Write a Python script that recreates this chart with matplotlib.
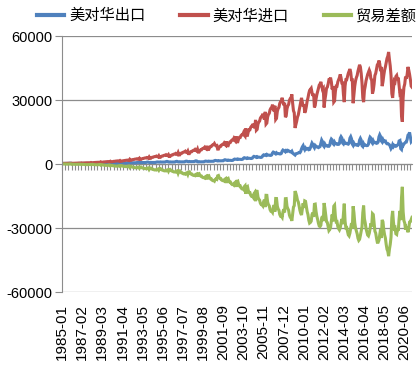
import matplotlib
matplotlib.use("Agg")
import matplotlib.pyplot as plt
import numpy as np
import pandas as pd

plt.rcParams["font.family"] = ["Liberation Sans", "Noto Sans CJK SC"]
plt.rcParams["axes.unicode_minus"] = False

# monthly values, one row per year (1985-01 .. 2021-03)
imports_cn = [
    [300, 260, 270, 290, 310, 320, 340, 350, 350, 370, 345, 335],
    [390, 320, 330, 365, 390, 390, 420, 430, 430, 460, 425, 410],
    [530, 430, 430, 480, 515, 515, 550, 570, 570, 605, 560, 540],
    [720, 580, 580, 650, 695, 695, 745, 765, 765, 815, 760, 730],
    [1020, 820, 820, 920, 980, 980, 1050, 1080, 1080, 1150, 1070, 1030],
    [1290, 1040, 1040, 1170, 1245, 1245, 1335, 1370, 1370, 1460, 1360, 1310],
    [1610, 1300, 1300, 1450, 1550, 1550, 1660, 1710, 1710, 1820, 1690, 1630],
    [2190, 1760, 1760, 1970, 2100, 2100, 2250, 2320, 2320, 2470, 2290, 2210],
    [2680, 2150, 2150, 2420, 2580, 2580, 2760, 2840, 2840, 3020, 2810, 2710],
    [3300, 2650, 2650, 2970, 3170, 3170, 3390, 3490, 3490, 3720, 3460, 3330],
    [3870, 3110, 3110, 3490, 3720, 3720, 3980, 4100, 4100, 4360, 4060, 3910],
    [4380, 3520, 3520, 3950, 4210, 4210, 4510, 4640, 4640, 4940, 4590, 4420],
    [5320, 4270, 4270, 4800, 5110, 5110, 5470, 5630, 5630, 6000, 5580, 5370],
    [6050, 4860, 4860, 5460, 5810, 5810, 6230, 6410, 6410, 6820, 6350, 6110],
    [6950, 5590, 5590, 6270, 6680, 6680, 7160, 7360, 7360, 7840, 7290, 7020],
    [8500, 6830, 6830, 7670, 8170, 8170, 8750, 9000, 9000, 9590, 8920, 8590],
    [8690, 6990, 6990, 7840, 8350, 8350, 8950, 9200, 9200, 9800, 9120, 8780],
    [10640, 8550, 8550, 9600, 10220, 10220, 10950, 11270, 11270, 12000, 11160, 10750],
    [12960, 10420, 10420, 11690, 12450, 12450, 13340, 13720, 13720, 14610, 13590, 13080],
    [16720, 13440, 13440, 15080, 16060, 16060, 17210, 17700, 17700, 18850, 17540, 16880],
    [20690, 15830, 16230, 18670, 19680, 20090, 21510, 22120, 22320, 23540, 21910, 20900],
    [24460, 18710, 19180, 22060, 23260, 23740, 25420, 26140, 26380, 27820, 25900, 24700],
    [27320, 20890, 21430, 24640, 25980, 26520, 28390, 29200, 29470, 31070, 28930, 27590],
    [28710, 21960, 22520, 25900, 27300, 27870, 29840, 30680, 30960, 32650, 28500, 25000],
    [24000, 16900, 18500, 20000, 22000, 23000, 25000, 27000, 29000, 31000, 29000, 27000],
    [28000, 24000, 25000, 27000, 29500, 31000, 33000, 34500, 35000, 35500, 33500, 32000],
    [33000, 26500, 27500, 30500, 32500, 34000, 35500, 37000, 37500, 38500, 36500, 35000],
    [35500, 26500, 30000, 32500, 35500, 36000, 37500, 39500, 39500, 40500, 38500, 35000],
    [36500, 29000, 29500, 34000, 36500, 36500, 38500, 39500, 40500, 42000, 40500, 38000],
    [38000, 32500, 29000, 36500, 39500, 39500, 41000, 42500, 43500, 44500, 43000, 39500],
    [39500, 28500, 32500, 36500, 39000, 40500, 41500, 43500, 45000, 46500, 45500, 42500],
    [38000, 31000, 29000, 34500, 36500, 39000, 40500, 42000, 43000, 44000, 43000, 40000],
    [39500, 33000, 34500, 37500, 41500, 42500, 44500, 46500, 47000, 48500, 47000, 43500],
    [45500, 36500, 38500, 41500, 44000, 45500, 47500, 49500, 50500, 52500, 49000, 46000],
    [41500, 33000, 31000, 35500, 39000, 38500, 41000, 41500, 39500, 40500, 36500, 33000],
    [33500, 22500, 19800, 31000, 36000, 37500, 41000, 40000, 42000, 45500, 44000, 42000],
    [39500, 36500, 36000],
]

exports_cn = [
    [300, 290, 320, 300, 300, 300, 290, 290, 305, 370, 400, 390],
    [245, 235, 260, 240, 240, 240, 235, 235, 245, 300, 325, 315],
    [275, 260, 290, 270, 270, 270, 260, 260, 275, 335, 365, 350],
    [400, 375, 420, 390, 390, 390, 375, 375, 400, 480, 525, 505],
    [455, 430, 480, 445, 445, 445, 430, 430, 455, 550, 600, 580],
    [380, 360, 400, 370, 370, 370, 360, 360, 380, 460, 500, 485],
    [495, 470, 525, 485, 485, 485, 470, 470, 495, 600, 655, 635],
    [585, 555, 620, 575, 575, 575, 555, 555, 585, 710, 775, 750],
    [695, 655, 730, 680, 680, 680, 655, 655, 695, 840, 915, 885],
    [735, 695, 775, 720, 720, 720, 695, 695, 735, 890, 965, 935],
    [930, 880, 980, 910, 910, 910, 880, 880, 930, 1125, 1225, 1185],
    [950, 900, 1000, 930, 930, 930, 900, 900, 950, 1150, 1250, 1210],
    [1020, 965, 1070, 995, 995, 995, 965, 965, 1020, 1230, 1340, 1295],
    [1130, 1070, 1185, 1105, 1105, 1105, 1070, 1070, 1130, 1365, 1485, 1435],
    [1040, 985, 1095, 1015, 1015, 1015, 985, 985, 1040, 1255, 1365, 1320],
    [1280, 1215, 1350, 1255, 1255, 1255, 1215, 1215, 1280, 1550, 1685, 1630],
    [1520, 1440, 1600, 1485, 1485, 1485, 1440, 1440, 1520, 1840, 2000, 1935],
    [1750, 1660, 1845, 1715, 1715, 1715, 1660, 1660, 1750, 2120, 2305, 2230],
    [2245, 2130, 2365, 2200, 2200, 2200, 2130, 2130, 2245, 2720, 2955, 2860],
    [2725, 2580, 2870, 2670, 2670, 2670, 2580, 2580, 2725, 3300, 3585, 3470],
    [3260, 3090, 3435, 3190, 3190, 3190, 3090, 3090, 3260, 3950, 4290, 4155],
    [4250, 4025, 4475, 4160, 4160, 4160, 4025, 4025, 4250, 5145, 5590, 5410],
    [4980, 4720, 5245, 4880, 4880, 4880, 4720, 4720, 4980, 6030, 6555, 6345],
    [6000, 5700, 6300, 6000, 6400, 6200, 5900, 5700, 5600, 6000, 5100, 4800],
    [4500, 4200, 4800, 4900, 5000, 5200, 5400, 5300, 5900, 7100, 8000, 8600],
    [7400, 6700, 7500, 7000, 7200, 7300, 6700, 6800, 7600, 8700, 9800, 9200],
    [8200, 7600, 8700, 8300, 8000, 8000, 7700, 7900, 8200, 9800, 11200, 10500],
    [8700, 8200, 9300, 8600, 8500, 8600, 8300, 8300, 8800, 10800, 11700, 11300],
    [9600, 9200, 10200, 9500, 9400, 9500, 9200, 9200, 9600, 12000, 12800, 12200],
    [9800, 9400, 10400, 9700, 9600, 9700, 9400, 9300, 9800, 12100, 12800, 11800],
    [9300, 8700, 9700, 9000, 9000, 9100, 8800, 8700, 9200, 11200, 12000, 11200],
    [8600, 8200, 9500, 8800, 8900, 8700, 8600, 8700, 9300, 11500, 12600, 12200],
    [10200, 9700, 10800, 10000, 10000, 10100, 9700, 9800, 10300, 12700, 13700, 12900],
    [10800, 10300, 11400, 10600, 10800, 10800, 9800, 9500, 9600, 9300, 9000, 8300],
    [7200, 7800, 9000, 8200, 8800, 8600, 8300, 8500, 8900, 9200, 10800, 11000],
    [7200, 6800, 9100, 8700, 9400, 9800, 10200, 10300, 11600, 13500, 13900, 14800],
    [12500, 10500, 11000],
]

series_names = ["美对华出口", "美对华进口", "贸易差额"]
colors = ["#4F81BD", "#C0504D", "#9BBB59"]

exp = np.concatenate([np.array(r, dtype=float) for r in exports_cn])
imp = np.concatenate([np.array(r, dtype=float) for r in imports_cn])
bal = exp - imp
n = len(exp)
months = pd.period_range("1985-01", periods=n, freq="M").strftime("%Y-%m")
x = np.arange(n)

fig = plt.figure(figsize=(4.2, 3.66), dpi=100)
ax = fig.add_axes([62 / 420, 1 - 292 / 366, (412 - 62) / 420, (292 - 36) / 366])

grid_c = "#8c8c8c"
for vals, name, c in zip([exp, imp, bal], series_names, colors):
    ax.plot(x, vals, color=c, lw=2.2, label=name, solid_joinstyle="miter")

ax.set_xlim(0, n - 1)
ax.set_ylim(-60000, 60000)
ax.set_yticks([-60000, -30000, 0, 30000, 60000])
ax.yaxis.grid(True, color=grid_c, lw=0.9)
ax.set_axisbelow(True)
ax.tick_params(axis="y", labelsize=10.5, length=5, color=grid_c, pad=2)

for s in ["top", "right"]:
    ax.spines[s].set_visible(False)
ax.spines["left"].set_color(grid_c)
ax.spines["bottom"].set_position(("data", 0))
ax.spines["bottom"].set_color(grid_c)
ax.spines["bottom"].set_zorder(0.5)
ax.set_xticks(np.arange(0, n, 4))
ax.tick_params(axis="x", length=4, color=grid_c, labelbottom=False)

# category labels at the bottom of the plot
ax2 = ax.twiny()
ax2.set_xlim(ax.get_xlim())
ax2.xaxis.tick_bottom()
ax2.set_xticks(np.arange(0, n, 25))
ax2.set_xticklabels(months[::25], rotation=90, fontsize=11)
ax2.tick_params(axis="x", length=0, pad=9)
for s in ax2.spines.values():
    s.set_visible(False)

fig.legend(loc="center", bbox_to_anchor=(227 / 420, 1 - 16 / 366), ncol=3,
           frameon=False, fontsize=11, handlelength=1.8, handletextpad=0.3,
           columnspacing=2.3, borderaxespad=0)
for line in fig.legends[0].get_lines():
    line.set_linewidth(3)

fig.savefig("out.png", dpi=100)
